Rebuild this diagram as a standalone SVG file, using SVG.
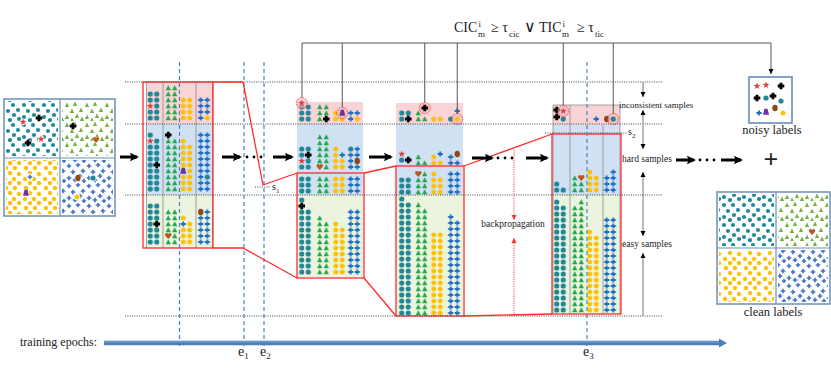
<svg xmlns="http://www.w3.org/2000/svg" xmlns:xlink="http://www.w3.org/1999/xlink" width="831" height="378" viewBox="0 0 831 378">
<style>
.c{fill:url(#Pc)}.t{fill:url(#Pt)}.p{fill:url(#Pp)}.x{fill:url(#Px)}
.dot{stroke:#333;stroke-width:0.9;stroke-dasharray:1 1.3;fill:none}
.dash{stroke:#4f81bd;stroke-width:1.2;stroke-dasharray:4 3;fill:none}
.red{stroke:#ff2b2b;stroke-width:1.3;fill:none}
.gry{stroke:#555;stroke-width:1;fill:none}
.ba{stroke:#000;stroke-width:3;fill:none;marker-end:url(#ab)}
.tx{font-family:"Liberation Serif",serif;fill:#222}
.pk{fill:#f8d4d7}.bl{fill:#cfe1f2}.gn{fill:#ebf4de}
.sep{stroke:#8c8c8c;stroke-width:0.8;fill:none}
</style>
<defs>
<circle id="mc" r="2.6" fill="#1f8796"/>
<path id="mt" d="M0,-2.8L2.6,2.3H-2.6Z" fill="#22a54b"/>
<path id="mp" d="M0,-2.8L2.7,-0.85L1.65,2.3H-1.65L-2.7,-0.85Z" fill="#ffc000"/>
<path id="mx" d="M-0.95,-2.6h1.9v1.65h1.65v1.9h-1.65v1.65h-1.9v-1.65h-1.65v-1.9h1.65z" fill="#1f6fc2"/>
<path id="ms" d="M0,-3.6L0.88,-1.21L3.42,-1.11L1.43,0.46L2.12,2.91L0,1.5L-2.12,2.91L-1.43,0.46L-3.42,-1.11L-0.88,-1.21Z" fill="#e0413f"/>
<path id="mk" d="M-1.4,-3.3h2.8v1.9h1.9v2.8h-1.9v1.9h-2.8v-1.9h-1.9v-2.8h1.9z" fill="#000"/>
<ellipse id="mb" rx="2.7" ry="3.2" fill="#8a4a1d"/>
<path id="mh" d="M0,3L-3,-0.3A1.6,1.6 0 0 1 0,-2A1.6,1.6 0 0 1 3,-0.3Z" fill="#b85a1f"/>
<path id="mu" d="M-1.5,-3.2H1.5L3,2.8H-3Z" fill="#7030a0"/>
<circle id="mo" r="5.5" fill="#f7b6bd" fill-opacity="0.6" stroke="#e53935" stroke-width="0.9" stroke-dasharray="1.4 1"/>
<rect id="vP" x="-3.25" y="-3" width="6.5" height="6" fill="#f8d4d7"/>
<rect id="vB" x="-3.25" y="-3" width="6.5" height="6" fill="#cfe1f2"/>
<rect id="vG" x="-3.25" y="-3" width="6.5" height="6" fill="#ebf4de"/>
<pattern id="Pc" width="6.5" height="6" patternUnits="userSpaceOnUse"><use href="#mc" x="3.25" y="3"/></pattern>
<pattern id="Pt" width="6.5" height="6" patternUnits="userSpaceOnUse"><use href="#mt" x="3.25" y="3"/></pattern>
<pattern id="Pp" width="6.5" height="6" patternUnits="userSpaceOnUse"><use href="#mp" x="3.25" y="3"/></pattern>
<pattern id="Px" width="6.5" height="6" patternUnits="userSpaceOnUse"><use href="#mx" x="3.25" y="3"/></pattern>
<circle id="sc" r="2.1" fill="#1e8a9c"/>
<path id="st" d="M0,-2.5L2.2,1.9H-2.2Z" fill="#78b043"/>
<path id="sp" d="M0,-2.4L2.3,-0.75L1.4,1.95H-1.4L-2.3,-0.75Z" fill="#ffc000"/>
<path id="sx" d="M-0.8,-2.3h1.6v1.5h1.5v1.6h-1.5v1.5h-1.6v-1.5h-1.5v-1.6h1.5z" fill="#4472c4"/>
<pattern id="Sc" width="20" height="20" patternUnits="userSpaceOnUse" x="1" y="2"><use href="#sc" x="3" y="3"/><use href="#sc" x="12" y="3"/><use href="#sc" x="17" y="8"/><use href="#sc" x="7" y="9"/><use href="#sc" x="13" y="13"/><use href="#sc" x="3" y="15"/><use href="#sc" x="9" y="18"/><use href="#sc" x="18" y="17"/></pattern>
<pattern id="St" width="20" height="20" patternUnits="userSpaceOnUse" x="4" y="1"><use href="#st" x="3" y="4"/><use href="#st" x="11" y="3"/><use href="#st" x="17" y="9"/><use href="#st" x="8" y="10"/><use href="#st" x="13" y="15"/><use href="#st" x="3" y="16"/><use href="#st" x="8" y="19"/><use href="#st" x="18" y="18"/></pattern>
<pattern id="Sp" width="20" height="20" patternUnits="userSpaceOnUse" x="2" y="5"><use href="#sp" x="4" y="3"/><use href="#sp" x="13" y="3"/><use href="#sp" x="17" y="9"/><use href="#sp" x="8" y="8"/><use href="#sp" x="12" y="14"/><use href="#sp" x="3" y="14"/><use href="#sp" x="8" y="18"/><use href="#sp" x="17" y="18"/></pattern>
<pattern id="Sx" width="20" height="20" patternUnits="userSpaceOnUse" x="6" y="3"><use href="#sx" x="3" y="3"/><use href="#sx" x="12" y="2"/><use href="#sx" x="17" y="8"/><use href="#sx" x="7" y="9"/><use href="#sx" x="14" y="13"/><use href="#sx" x="3" y="15"/><use href="#sx" x="9" y="17"/><use href="#sx" x="18" y="18"/></pattern>
<marker id="ab" markerWidth="10" markerHeight="10" refX="7" refY="5" orient="auto" markerUnits="userSpaceOnUse"><path d="M0,0.8L9,5L0,9.2L1.5,5Z" fill="#000"/></marker>
<marker id="as" markerWidth="6" markerHeight="6" refX="5" refY="3" orient="auto" markerUnits="userSpaceOnUse"><path d="M0,0.5L5,3L0,5.5Z" fill="#000"/></marker>
<marker id="ar" markerWidth="6" markerHeight="6" refX="5" refY="3" orient="auto" markerUnits="userSpaceOnUse"><path d="M0,0.5L5,3L0,5.5Z" fill="#ff2b2b"/></marker>
</defs>
<rect width="831" height="378" fill="#fff"/>

<!-- input image -->
<g id="input-image">
<rect x="4" y="99" width="111" height="117" fill="#fff" stroke="#6d8fb8" stroke-width="1.5"/>
<rect x="6" y="101" width="52" height="55" fill="url(#Sc)"/>
<rect x="62" y="101" width="51" height="55" fill="url(#St)"/>
<rect x="6" y="160" width="52" height="54" fill="url(#Sp)"/>
<rect x="62" y="160" width="51" height="54" fill="url(#Sx)"/>
<path d="M60,99V216M4,158H115" stroke="#6d8fb8" stroke-width="1.2"/>
<g fill="#fff"><circle cx="39" cy="118" r="3.3"/><circle cx="23" cy="122" r="3.3"/><circle cx="41" cy="139" r="3.3"/><circle cx="28" cy="143" r="3.3"/><circle cx="73" cy="126" r="3.3"/><circle cx="96" cy="140" r="3.3"/><circle cx="30" cy="177" r="3.3"/><circle cx="26" cy="193" r="3.3"/><circle cx="78" cy="178" r="3.3"/><circle cx="93" cy="178" r="3.3"/><circle cx="77" cy="197" r="3.3"/></g>
<use href="#mk" x="39" y="118"/><use href="#ms" x="23" y="122"/><use href="#ms" x="41" y="139"/><use href="#mk" x="28" y="143"/>
<use href="#mk" x="73" y="126"/><use href="#mh" x="96" y="140"/>
<use href="#sx" x="30" y="177"/><use href="#mu" x="26" y="193"/>
<use href="#mb" x="78" y="178"/><use href="#mc" x="93" y="178"/><use href="#mp" x="77" y="197"/>
</g>

<!-- epoch 1 -->
<g id="epoch1">
<rect class="pk" x="146.5" y="82" width="66" height="42"/>
<rect class="bl" x="146.5" y="124" width="66" height="71"/>
<rect class="gn" x="146.5" y="195" width="66" height="53"/>
<path class="sep" d="M146.5,82V248M163,82V248M196,82V248M212.5,82V248"/>
<g transform="translate(147,121)"><rect class="c" y="-30" width="13" height="30"/></g>
<g transform="translate(165,121)"><rect class="t" y="-36" width="13" height="36"/></g>
<g transform="translate(180,121)"><rect class="p" y="-24" width="13" height="24"/></g>
<g transform="translate(197.5,121)"><rect class="x" y="-24" width="6.5" height="24"/><rect class="x" x="6.5" y="-24" width="6.5" height="18"/></g>
<use href="#mp" x="207.25" y="118"/>
<use href="#vP" x="150.25" y="106"/><use href="#ms" x="150.25" y="106"/>
<g transform="translate(147,192)"><rect class="c" y="-60" width="6.5" height="60"/><rect class="c" x="6.5" y="-54" width="6.5" height="54"/></g>
<g transform="translate(165,192)"><rect class="t" y="-54" width="13" height="54"/></g>
<g transform="translate(180,192)"><rect class="p" y="-54" width="6.5" height="54"/><rect class="p" x="6.5" y="-48" width="6.5" height="48"/></g>
<g transform="translate(197.5,192)"><rect class="x" y="-60" width="13" height="60"/></g>
<use href="#vB" x="150.25" y="141"/><use href="#ms" x="150.25" y="141"/>
<use href="#vB" x="156.75" y="165"/><use href="#mk" x="156.75" y="165"/>
<use href="#mk" x="168.25" y="135"/>
<use href="#vB" x="183.25" y="171"/><use href="#mu" x="183.25" y="171"/>
<use href="#vB" x="207.25" y="177"/><use href="#mc" x="207.25" y="177"/>
<g transform="translate(147,245)"><rect class="c" y="-42" width="13" height="42"/></g>
<g transform="translate(165,245)"><rect class="t" y="-36" width="13" height="36"/></g>
<g transform="translate(180,245)"><rect class="p" y="-30" width="6.5" height="30"/><rect class="p" x="6.5" y="-24" width="6.5" height="24"/></g>
<g transform="translate(197.5,245)"><rect class="x" y="-30" width="6.5" height="30"/><rect class="x" x="6.5" y="-36" width="6.5" height="36"/></g>
<use href="#vG" x="156.75" y="224"/><use href="#mk" x="156.75" y="224"/>
<use href="#vG" x="168.25" y="236"/><use href="#mh" x="168.25" y="236"/>
<use href="#vG" x="183.25" y="224"/><use href="#mx" x="183.25" y="224"/>
<use href="#mb" x="200.75" y="212"/>
<rect class="red" x="143" y="82" width="70" height="166"/>
</g>

<!-- epoch 2 -->
<g id="epoch2">
<rect class="pk" x="297" y="102" width="66" height="22"/>
<rect class="bl" x="297" y="124" width="66" height="71"/>
<rect class="gn" x="297" y="195" width="66" height="82"/>
<g transform="translate(298.5,122)"><rect class="c" y="-18" width="13" height="18"/></g>
<g transform="translate(316.5,122)"><rect class="t" y="-18" width="13" height="18"/></g>
<g transform="translate(332.5,122)"><rect class="p" y="-12" width="6.5" height="12"/><rect class="p" x="6.5" y="-6" width="6.5" height="6"/></g>
<g transform="translate(347.5,122)"><rect class="x" y="-12" width="13" height="12"/></g>
<use href="#vP" x="326.25" y="119"/><use href="#mk" x="326.25" y="119"/>
<use href="#vP" x="357.25" y="119"/><use href="#mp" x="357.25" y="119"/>
<use href="#mo" x="301.75" y="103"/><use href="#ms" x="301.75" y="103"/>
<use href="#mo" x="342.25" y="113"/><use href="#mu" x="342.25" y="113"/>
<g transform="translate(298.5,170)"><rect class="c" y="-24" width="13" height="24"/></g>
<g transform="translate(316.5,170)"><rect class="t" y="-36" width="13" height="36"/></g>
<g transform="translate(332.5,170)"><rect class="p" y="-24" width="6.5" height="24"/><rect class="p" x="6.5" y="-12" width="6.5" height="12"/></g>
<g transform="translate(347.5,170)"><rect class="x" y="-18" width="6.5" height="18"/><rect class="x" x="6.5" y="-24" width="6.5" height="24"/></g>
<use href="#vB" x="301.75" y="161"/><use href="#ms" x="301.75" y="161"/>
<use href="#vB" x="308.25" y="155"/><use href="#mk" x="308.25" y="155"/>
<use href="#vB" x="319.75" y="167"/><use href="#mh" x="319.75" y="167"/>
<use href="#mx" x="342.25" y="155"/>
<use href="#mc" x="350.75" y="149"/>
<use href="#vB" x="357.25" y="161"/><use href="#mb" x="357.25" y="161"/>
<g transform="translate(298.5,194)"><rect class="c" y="-18" width="13" height="18"/></g>
<g transform="translate(316.5,194)"><rect class="t" y="-18" width="13" height="18"/></g>
<g transform="translate(332.5,194)"><rect class="p" y="-18" width="13" height="18"/></g>
<g transform="translate(347.5,194)"><rect class="x" y="-18" width="13" height="18"/></g>
<g transform="translate(298.5,275)"><rect class="c" y="-78" width="6.5" height="78"/><rect class="c" x="6.5" y="-66" width="6.5" height="66"/></g>
<g transform="translate(316.5,275)"><rect class="t" y="-60" width="6.5" height="60"/><rect class="t" x="6.5" y="-54" width="6.5" height="54"/></g>
<g transform="translate(332.5,275)"><rect class="p" y="-54" width="6.5" height="54"/><rect class="p" x="6.5" y="-48" width="6.5" height="48"/></g>
<g transform="translate(347.5,275)"><rect class="x" y="-66" width="13" height="66"/></g>
<use href="#vG" x="301.75" y="206"/><use href="#mk" x="301.75" y="206"/>
<rect class="red" x="297" y="173" width="67" height="105"/>
</g>

<!-- epoch 3 -->
<g id="epoch3">
<rect class="pk" x="396" y="103" width="67" height="21"/>
<rect class="bl" x="396" y="124" width="67" height="71"/>
<rect class="gn" x="396" y="195" width="67" height="121"/>
<g transform="translate(398.5,122)"><rect class="c" y="-12" width="13" height="12"/></g>
<g transform="translate(415,122)"><rect class="t" y="-12" width="6.5" height="12"/><rect class="t" x="6.5" y="-6" width="6.5" height="6"/></g>
<g transform="translate(430.5,122)"><rect class="p" y="-6" width="13" height="6"/></g>
<use href="#vP" x="408.25" y="119"/><use href="#mk" x="408.25" y="119"/>
<use href="#mc" x="450.75" y="119"/>
<use href="#mo" x="424.75" y="108"/><use href="#mk" x="424.75" y="108"/>
<use href="#mo" x="457.25" y="119"/><use href="#mx" x="457.25" y="111"/><use href="#mp" x="457.25" y="119"/>
<use href="#ms" x="401.75" y="154"/><use href="#mc" x="401.75" y="160"/><use href="#mk" x="408.25" y="160"/>
<g transform="translate(415,166)"><rect class="t" y="-12" width="6.5" height="12"/><rect class="t" x="6.5" y="-6" width="6.5" height="6"/></g>
<g transform="translate(430.5,166)"><rect class="p" y="-12" width="6.5" height="12"/><rect class="p" x="6.5" y="-6" width="6.5" height="6"/></g>
<g transform="translate(447.5,166)"><rect class="x" y="-12" width="6.5" height="12"/><rect class="x" x="6.5" y="-6" width="6.5" height="6"/></g>
<use href="#mx" x="440.25" y="154"/><use href="#mb" x="457.25" y="154"/>
<g transform="translate(398.5,195)"><rect class="c" y="-18" width="13" height="18"/></g>
<g transform="translate(415,195)"><rect class="t" y="-18" width="6.5" height="18"/><rect class="t" x="6.5" y="-24" width="6.5" height="24"/></g>
<g transform="translate(430.5,195)"><rect class="p" y="-24" width="6.5" height="24"/><rect class="p" x="6.5" y="-18" width="6.5" height="18"/></g>
<g transform="translate(447.5,195)"><rect class="x" y="-24" width="13" height="24"/></g>
<use href="#mh" x="418.25" y="174"/>
<g transform="translate(398.5,316)"><rect class="c" y="-120" width="6.5" height="120"/><rect class="c" x="6.5" y="-114" width="6.5" height="114"/></g>
<g transform="translate(415,316)"><rect class="t" y="-114" width="6.5" height="114"/><rect class="t" x="6.5" y="-108" width="6.5" height="108"/></g>
<g transform="translate(430.5,316)"><rect class="p" y="-84" width="13" height="84"/></g>
<g transform="translate(447.5,316)"><rect class="x" y="-102" width="6.5" height="102"/><rect class="x" x="6.5" y="-96" width="6.5" height="96"/></g>
<rect class="red" x="396" y="166" width="68" height="150"/>
</g>

<!-- final epoch (e3) -->
<g id="epoch-final">
<rect class="pk" x="553" y="105" width="67" height="20"/>
<rect class="bl" x="553" y="125" width="67" height="70"/>
<rect class="gn" x="553" y="195" width="67" height="119"/>
<path class="sep" d="M553,105H620V314M553,105V314M570,105V314M603,125V314"/>
<use href="#mk" x="556.75" y="110"/><use href="#mk" x="556.75" y="117"/>
<use href="#mc" x="563.25" y="119"/>
<use href="#mo" x="563.25" y="111"/><use href="#ms" x="563.25" y="111"/>
<use href="#mx" x="596.25" y="119"/><use href="#mb" x="606.75" y="119"/>
<use href="#mo" x="613.25" y="119"/><use href="#mc" x="613.25" y="119"/>
<g transform="translate(553.5,193)"><rect class="c" y="-12" width="6.5" height="12"/><rect class="c" x="6.5" y="-6" width="6.5" height="6"/></g>
<g transform="translate(571.5,193)"><rect class="t" y="-18" width="6.5" height="18"/><rect class="t" x="6.5" y="-12" width="6.5" height="12"/></g>
<g transform="translate(586.5,193)"><rect class="p" y="-24" width="6.5" height="24"/><rect class="p" x="6.5" y="-18" width="6.5" height="18"/></g>
<g transform="translate(603.5,193)"><rect class="x" y="-18" width="6.5" height="18"/><rect class="x" x="6.5" y="-24" width="6.5" height="24"/></g>
<use href="#mh" x="581.25" y="178"/>
<g transform="translate(553.5,313)"><rect class="c" y="-114" width="6.5" height="114"/><rect class="c" x="6.5" y="-108" width="6.5" height="108"/></g>
<g transform="translate(571.5,313)"><rect class="t" y="-108" width="6.5" height="108"/><rect class="t" x="6.5" y="-114" width="6.5" height="114"/></g>
<g transform="translate(586.5,313)"><rect class="p" y="-84" width="6.5" height="84"/><rect class="p" x="6.5" y="-78" width="6.5" height="78"/></g>
<g transform="translate(603.5,313)"><rect class="x" y="-96" width="13" height="96"/></g>
<rect class="red" x="552" y="134" width="69" height="180"/>
</g>

<!-- dotted guide lines and epoch markers -->
<g id="guides">
<path class="dot" d="M125,82H662M125,124H662M125,195H662M125,316H662M545,133H627M255,187H270"/>
<path class="dash" d="M179.5,62V347M244,62V347M264,62V347M587,62V347"/>
</g>

<!-- noisy labels -->
<g id="noisy-labels">
<rect x="749" y="77" width="43" height="46" fill="#fff" stroke="#5b87b5" stroke-width="1.5"/>
<use href="#ms" x="757" y="86"/><use href="#ms" x="766" y="85"/><use href="#mk" x="781" y="86"/>
<use href="#mk" x="757" y="98"/><use href="#mc" x="766" y="98"/><use href="#mk" x="773" y="96"/><use href="#mc" x="781" y="101"/>
<use href="#mx" x="759" y="113"/><use href="#mu" x="766" y="112"/><use href="#mb" x="775" y="108"/><use href="#mp" x="783" y="113"/>
<text class="tx" x="772" y="134" font-size="12.5" text-anchor="middle">noisy labels</text>
</g>

<!-- clean labels -->
<g id="clean-labels">
<rect x="717" y="192" width="113" height="112" fill="#fff" stroke="#6d8fb8" stroke-width="1.5"/>
<rect x="719" y="194" width="55" height="52" fill="url(#Sc)"/>
<rect x="778" y="194" width="50" height="52" fill="url(#St)"/>
<rect x="719" y="250" width="55" height="52" fill="url(#Sp)"/>
<rect x="778" y="250" width="50" height="52" fill="url(#Sx)"/>
<path d="M776,192V304M717,248H830" stroke="#6d8fb8" stroke-width="1.2"/>
<circle cx="812" cy="232" r="3.2" fill="#fff"/><use href="#mh" x="812" y="232"/>
<text class="tx" x="773" y="316" font-size="12.5" text-anchor="middle">clean labels</text>
</g>

<!-- connectors -->
<g id="connectors">
<path class="red" d="M213,82H243L263,185L297,173M213,248H243L297,278M364,173L396,166M364,278L396,316M464,166L552,134M464,316L552,314"/>
<path class="gry" d="M302,97.5V43H771V74" marker-end="url(#as)"/>
<path class="gry" d="M342.25,43V107.5M424.75,43V102.5M457.25,43V113.5M563.25,43V105.5M613.25,43V113.5"/>
<line class="ba" x1="120" y1="157" x2="137" y2="157"/>
<line class="ba" x1="222" y1="157" x2="240" y2="157"/>
<line class="ba" x1="273" y1="157" x2="292" y2="157"/>
<line class="ba" x1="369" y1="157" x2="391" y2="157"/>
<line class="ba" x1="472" y1="158" x2="492" y2="158"/>
<line class="ba" x1="526" y1="158" x2="547" y2="158"/>
<line class="ba" x1="676" y1="160" x2="694" y2="160"/>
<line class="ba" x1="721" y1="160" x2="741" y2="160"/>
<g fill="#000"><circle cx="247" cy="157" r="1.4"/><circle cx="254" cy="157" r="1.4"/><circle cx="261" cy="157" r="1.4"/><circle cx="498" cy="158" r="1.4"/><circle cx="505" cy="158" r="1.4"/><circle cx="512" cy="158" r="1.4"/><circle cx="700" cy="160" r="1.4"/><circle cx="707" cy="160" r="1.4"/><circle cx="714" cy="160" r="1.4"/></g>
<g stroke="#666" stroke-width="0.9" fill="none" marker-end="url(#as)">
<path d="M643,82V97"/><path d="M643,124V110"/>
<path d="M643,125V149"/><path d="M643,195V172"/>
<path d="M643,195V236"/><path d="M643,316V253"/>
</g>
<g stroke="#ff2b2b" stroke-width="0.9" stroke-dasharray="1.2 1.2" fill="none" marker-end="url(#ar)">
<path d="M514,150V220"/><path d="M514,316V238"/>
</g>
<path d="M104,343H720" stroke="#4a7dba" stroke-width="4.5"/>
<path d="M104,342H719" stroke="#7ea9dc" stroke-width="1"/>
<path d="M719,338.5L727,343L719,347.5Z" fill="#4a7dba"/>
</g>

<!-- texts -->
<g id="labels" class="tx">
<text class="tx" y="32" font-size="14"><tspan x="454">CIC</tspan><tspan x="478.5" y="27" font-size="9">i</tspan><tspan x="478" y="36.5" font-size="9">m</tspan><tspan x="491" y="32">≥ τ</tspan><tspan x="509" y="36.5" font-size="9">cic</tspan><tspan x="524" y="32" font-size="16">∨</tspan><tspan x="539" y="32">TIC</tspan><tspan x="562.5" y="27" font-size="9">i</tspan><tspan x="562" y="36.5" font-size="9">m</tspan><tspan x="577" y="32">≥ τ</tspan><tspan x="595" y="36.5" font-size="9">tic</tspan></text>
<text class="tx" x="619" y="108" font-size="9">inconsistent samples</text>
<text class="tx" x="622" y="162" font-size="9.5">hard samples</text>
<text class="tx" x="622" y="247" font-size="9.5">easy samples</text>
<text class="tx" x="513" y="227" font-size="9.5" text-anchor="middle">backpropagation</text>
<text class="tx" x="272" y="190" font-size="10">s<tspan font-size="7" dy="2.5">1</tspan></text>
<text class="tx" x="628" y="135" font-size="10">s<tspan font-size="7" dy="2.5">2</tspan></text>
<text class="tx" x="771" y="168" font-size="26" font-weight="bold" text-anchor="middle" fill="#000">+</text>
<text class="tx" x="20" y="346" font-size="12">training epochs:</text>
<text class="tx" x="238" y="356" font-size="14">e<tspan font-size="9" dy="3">1</tspan></text>
<text class="tx" x="260" y="356" font-size="14">e<tspan font-size="9" dy="3">2</tspan></text>
<text class="tx" x="583" y="356" font-size="14">e<tspan font-size="9" dy="3">3</tspan></text>
</g>
</svg>
